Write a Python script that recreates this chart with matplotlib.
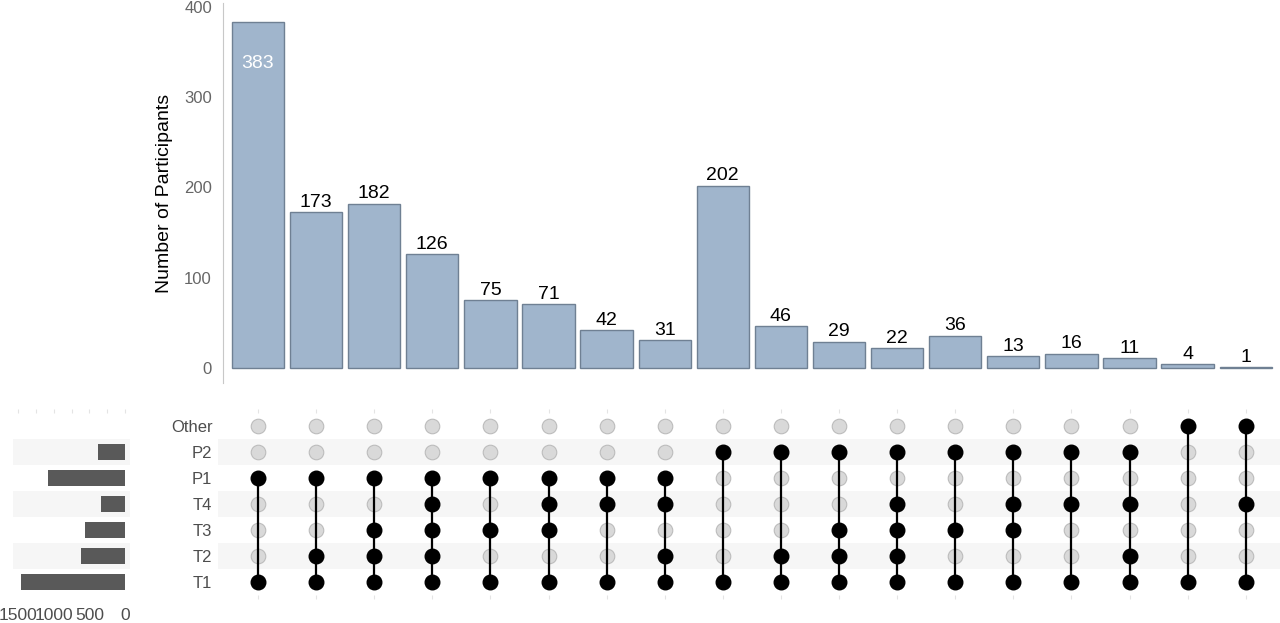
import numpy as np
import matplotlib.pyplot as plt

plt.rcParams['font.family'] = ['Liberation Sans', 'DejaVu Sans']

# sets from bottom to top of the matrix
sets = ['T1', 'T2', 'T3', 'T4', 'P1', 'P2', 'Other']

counts = [383, 173, 182, 126, 75, 71, 42, 31, 202, 46, 29, 22, 36, 13, 16, 11, 4, 1]

members = [
    ['T1', 'P1'],
    ['T1', 'T2', 'P1'],
    ['T1', 'T2', 'T3', 'P1'],
    ['T1', 'T2', 'T3', 'T4', 'P1'],
    ['T1', 'T3', 'P1'],
    ['T1', 'T3', 'T4', 'P1'],
    ['T1', 'T4', 'P1'],
    ['T1', 'T2', 'T4', 'P1'],
    ['T1', 'P2'],
    ['T1', 'T2', 'P2'],
    ['T1', 'T2', 'T3', 'P2'],
    ['T1', 'T2', 'T3', 'T4', 'P2'],
    ['T1', 'T3', 'P2'],
    ['T1', 'T3', 'T4', 'P2'],
    ['T1', 'T4', 'P2'],
    ['T1', 'T2', 'T4', 'P2'],
    ['T1', 'Other'],
    ['T1', 'T4', 'Other'],
]

# set sizes = sum of the intersections each set is part of
set_sizes = [sum(c for c, m in zip(counts, members) if s in m) for s in sets]

W, H = 1280, 623
fig = plt.figure(figsize=(W / 100, H / 100), dpi=100)

def box(l, t, r, b):
    return [l / W, (H - b) / H, (r - l) / W, (b - t) / H]

x0, dx = 258, 58.1  # pixel of first column and column spacing
def xl(l, r):
    return ((l - x0) / dx, (r - x0) / dx)

bar_col = '#a0b5cc'
bar_edge = '#6f8093'
tick_col = '#666666'
stripe = '#f6f6f6'
n = len(counts)
xs = np.arange(n)

# --- intersection bars ---
ax = fig.add_axes(box(223, 3, 1280, 383))
ax.bar(xs, counts, width=0.9, color=bar_col, edgecolor=bar_edge, linewidth=1)
ax.set_xlim(*xl(223, 1280))
ax.set_ylim(-16.6, 404.4)
ax.set_yticks([0, 100, 200, 300, 400])
ax.tick_params(axis='y', length=0, pad=8, labelsize=12, labelcolor=tick_col)
ax.set_xticks([])
for s in ['top', 'right', 'bottom']:
    ax.spines[s].set_visible(False)
ax.spines['left'].set_color('#c8c8c8')
ax.set_ylabel('Number of Participants', fontsize=14, labelpad=8)
top = max(counts)
for x, c in zip(xs, counts):
    if c > 0.9 * top:
        ax.text(x, c - 46, str(c), ha='center', va='center', color='white', fontsize=14)
    else:
        ax.text(x, c + 1.5, str(c), ha='center', va='bottom', color='black', fontsize=14)

# --- matrix ---
am = fig.add_axes(box(218, 413, 1280, 595))
am.set_xlim(*xl(218, 1280))
am.set_ylim(-0.5, len(sets) - 0.5)
for i in range(len(sets)):
    if i % 2 == 1:
        am.axhspan(i - 0.5, i + 0.5, color=stripe, zorder=0, lw=0)
for x, m in zip(xs, members):
    rows = [sets.index(s) for s in m]
    am.plot([x, x], [min(rows), max(rows)], color='black', lw=1.6, zorder=2)
    for i, s in enumerate(sets):
        if s in m:
            am.scatter(x, i, s=110, color='black', zorder=3)
        else:
            am.scatter(x, i, s=110, color='#d9d9d9', edgecolors='#bcbcbc', linewidths=0.8, zorder=1)
am.set_yticks(range(len(sets)))
am.set_yticklabels(sets)
am.tick_params(axis='y', length=0, pad=4, labelsize=12, labelcolor='#4d4d4d')
am.set_xticks(xs)
am.set_xticklabels([])
am.tick_params(axis='x', top=True, bottom=True, length=3, width=0.8, color='#e4e4e4', direction='out')
for s in am.spines.values():
    s.set_visible(False)

# --- set size bars ---
al = fig.add_axes(box(13, 413, 130, 595))
al.set_xlim(1570, -70)
al.set_ylim(-0.5, len(sets) - 0.5)
for i in range(len(sets)):
    if i % 2 == 1:
        al.axhspan(i - 0.5, i + 0.5, color=stripe, zorder=0, lw=0)
al.barh(range(len(sets)), set_sizes, height=0.6, color='#595959', zorder=2)
al.set_yticks([])
al.set_xticks([1500, 1000, 500, 0])
al.tick_params(axis='x', length=0, pad=9, labelsize=12.5, labelcolor='#4d4d4d')
for s in al.spines.values():
    s.set_visible(False)
sec = al.secondary_xaxis('top')
sec.set_xticks(np.arange(0, 1751, 250))
sec.set_xticklabels([])
sec.tick_params(length=3, width=0.8, color='#e4e4e4')
for s in sec.spines.values():
    s.set_visible(False)

fig.savefig('out.png', dpi=100)
